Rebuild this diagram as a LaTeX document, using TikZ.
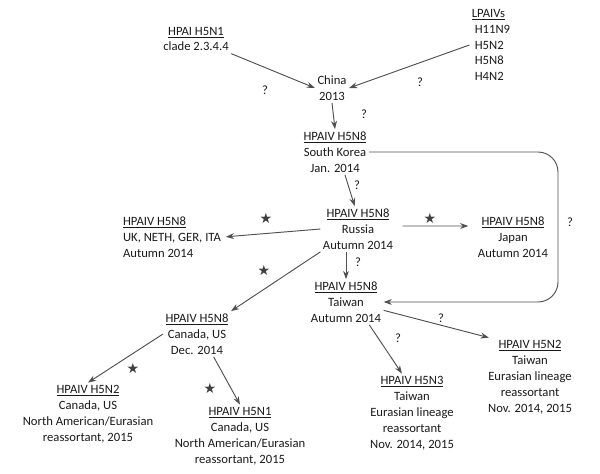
\documentclass[tikz,border=0pt]{standalone}
\usepackage{fontspec}
\setmainfont{Carlito}
\newfontfamily\symfont{DejaVu Sans}
\usetikzlibrary{positioning, arrows.meta}
\definecolor{arrgray}{HTML}{505050}
\definecolor{txt}{HTML}{1A1A1A}

\begin{document}
\begin{tikzpicture}[x=0.03cm, y=-0.03cm,
  virus/.style={text=txt, font=\fontsize{10.8}{13.6}\selectfont,
                align=center, inner sep=2pt},
  link/.style={draw=arrgray, line width=0.8pt,
               -{Stealth[length=7pt,width=5pt]}},
  qmark/.style={text=txt, font=\fontsize{10.8}{13}\selectfont},
  starmark/.style={text=arrgray!80!black, font=\symfont\fontsize{12}{12}\selectfont}]
  \useasboundingbox (0,0) rectangle (600,473);
  % sources
  \node[virus] (hpai) at (196,39) {\underline{HPAI H5N1}\\clade 2.3.4.4};
  \node[virus, align=left] (lpaiv) at (491,45)
    {\underline{LPAIVs}\\\ H11N9\\\ H5N2\\\ H5N8\\\ H4N2};
  \node[virus] (china) at (332,88) {China\\2013};
  % H5N8 spread
  \node[virus] (korea) at (335,152) {\underline{HPAIV H5N8}\\South Korea\\Jan. 2014};
  \node[virus] (russia) at (358,229) {\underline{HPAIV H5N8}\\Russia\\Autumn 2014};
  \node[virus, align=left] (europe) at (172,237)
    {\underline{HPAIV H5N8}\\UK, NETH, GER, ITA\\Autumn 2014};
  \node[virus] (japan) at (513,237) {\underline{HPAIV H5N8}\\Japan\\Autumn 2014};
  \node[virus] (taiwan) at (346,302) {\underline{HPAIV H5N8}\\Taiwan\\Autumn 2014};
  \node[virus] (canada) at (197,334) {\underline{HPAIV H5N8}\\Canada, US\\Dec. 2014};
  % reassortants
  \node[virus] (camN2) at (88,414)
    {\underline{HPAIV H5N2}\\Canada, US\\North American/Eurasian\\reassortant, 2015};
  \node[virus] (camN1) at (240,436)
    {\underline{HPAIV H5N1}\\Canada, US\\North American/Eurasian\\reassortant, 2015};
  \node[virus] (twN3) at (412,413)
    {\underline{HPAIV H5N3}\\Taiwan\\Eurasian lineage\\reassortant\\Nov. 2014, 2015};
  \node[virus] (twN2) at (530,377)
    {\underline{HPAIV H5N2}\\Taiwan\\Eurasian lineage\\reassortant\\Nov. 2014, 2015};
  % connectors
  \coordinate (loop) at (558,220);
  \draw[link] (hpai.south east) -- (china.west);
  \draw[link] (lpaiv.west) -- (china.east);
  \draw[link] (china.south) -- (korea.north);
  \draw[link] ([xshift=0.3cm]korea.south) -- ([xshift=-0.1cm]russia.north);
  \draw[link, shorten >=2pt] (russia.west) -- (europe.east);
  \draw[link, shorten <=6pt, shorten >=6pt] ([yshift=0.09cm]russia.east) -- ([yshift=0.33cm]japan.west);
  \draw[link] (taiwan.north |- russia.south) -- (taiwan.north);
  \draw[link] (russia.south west) -- (canada.north east);
  \draw[link, rounded corners=0.6cm] (korea.east) -| (loop) |- (taiwan.east);
  \draw[link] (canada.west) -- (camN2.north);
  \draw[link] ([xshift=0.5cm]canada.south) -- (camN1.north);
  \draw[link] ([xshift=0.7cm]taiwan.south) -- ([xshift=-0.3cm]twN3.north);
  \draw[link] ([yshift=-0.25cm]taiwan.east) -- ([xshift=0.1cm]twN2.north west);
  % marks
  \node[qmark] (q1) at (265,90) {?};
  \node[qmark] (q2) at (420,82) {?};
  \node[qmark] (q3) at (364,114) {?};
  \node[qmark] (q4) at (357,185) {?};
  \node[qmark] (q5) at (358,262) {?};
  \node[qmark] (q6) at (570,222) {?};
  \node[qmark] (q7) at (398,338) {?};
  \node[qmark] (q8) at (441,318) {?};
  \node[starmark] (s1) at (266,218) {★};
  \node[starmark] (s2) at (430,218) {★};
  \node[starmark] (s3) at (264,270) {★};
  \node[starmark] (s4) at (133,368) {★};
  \node[starmark] (s5) at (210,388) {★};
\end{tikzpicture}
\end{document}
